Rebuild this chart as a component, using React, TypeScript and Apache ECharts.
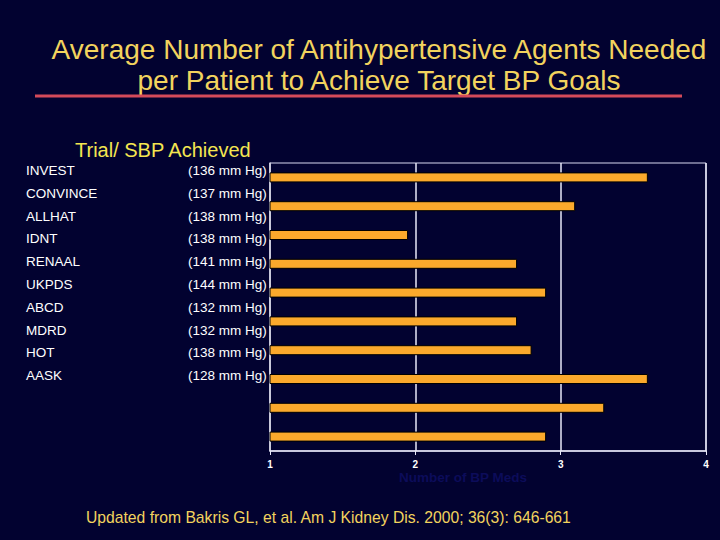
import React, { useEffect, useRef } from "react";
import * as echarts from "echarts";

const titleLines = [
  "Average Number of Antihypertensive Agents Needed",
  "per Patient to Achieve Target BP Goals",
];
const trials = ["INVEST", "CONVINCE", "ALLHAT", "IDNT", "RENAAL", "UKPDS", "ABCD", "MDRD", "HOT", "AASK"];
const sbpAchieved = [
  "(136 mm Hg)", "(137 mm Hg)", "(138 mm Hg)", "(138 mm Hg)", "(141 mm Hg)",
  "(144 mm Hg)", "(132 mm Hg)", "(132 mm Hg)", "(138 mm Hg)", "(128 mm Hg)",
];
const meds = [3.6, 3.1, 1.95, 2.7, 2.9, 2.7, 2.8, 3.6, 3.3, 2.9];
const xTicks = [1, 2, 3, 4];
const axisName = "Number of BP Meds";
const columnHeader = "Trial/ SBP Achieved";
const footer = "Updated from Bakris GL, et al. Am J Kidney Dis. 2000; 36(3): 646-661";

export default function App() {
  const ref = useRef<HTMLDivElement>(null);
  useEffect(() => {
    if (!ref.current) return;
    const chart = echarts.init(ref.current, null, { renderer: "svg" });
    const font = "'Liberation Sans', Arial, sans-serif";
    const labelTexts: any[] = [];
    trials.forEach((t, i) => {
      const y = 171 + i * 22.8;
      labelTexts.push({
        type: "text", left: 26, top: y - 7.5,
        style: { text: t, fill: "#ffffff", font: `13.5px ${font}` },
      });
      labelTexts.push({
        type: "text", left: 188, top: y - 7.5,
        style: { text: sbpAchieved[i], fill: "#ffffff", font: `13.5px ${font}` },
      });
    });
    chart.setOption({
      animation: false,
      backgroundColor: "#020230",
      grid: {
        left: 270, right: 14, top: 163, bottom: 89,
        show: true, borderColor: "#d8d8f0", borderWidth: 1,
      },
      xAxis: {
        type: "value", min: 1, max: 4, interval: 1,
        axisLine: { show: true, lineStyle: { color: "#e8e8f8", width: 1.5 } },
        axisTick: { show: true, length: 4, lineStyle: { color: "#e8e8f8" } },
        splitLine: { show: true, lineStyle: { color: "#e8e8f8", width: 1.5 } },
        axisLabel: {
          color: "#ffffff", fontSize: 10, fontWeight: "bold", fontFamily: font, margin: 8,
          formatter: (v: number) => (xTicks.includes(v) ? String(v) : ""),
        },
      },
      yAxis: {
        type: "category", data: trials, inverse: true,
        axisLine: { show: true, lineStyle: { color: "#c8c8d8", width: 1.5 } },
        axisTick: { show: false },
        axisLabel: { show: false },
      },
      series: [
        {
          type: "bar", data: meds, barWidth: 10,
          itemStyle: { color: "#fba92c", borderColor: "#000000", borderWidth: 1 },
        },
      ],
      graphic: [
        {
          type: "text", x: 379, y: 34,
          style: {
            text: titleLines.join("\n"), fill: "#f2d35e", font: `28px ${font}`,
            textAlign: "center", lineHeight: 31,
          },
        },
        {
          type: "rect", shape: { x: 35, y: 94.5, width: 647, height: 3 },
          style: { fill: "#d44a5a" },
        },
        {
          type: "text", left: 75, top: 140,
          style: { text: columnHeader, fill: "#f5e650", font: `20px ${font}` },
        },
        ...labelTexts,
        {
          type: "text", x: 463, y: 470,
          style: {
            text: axisName, fill: "#0c0c5a", font: `bold 13.5px ${font}`, textAlign: "center",
          },
        },
        {
          type: "text", left: 86, top: 509,
          style: { text: footer, fill: "#f2d35e", font: `15.7px ${font}` },
        },
      ],
    });
    return () => chart.dispose();
  }, []);
  return (
    <div
      ref={ref}
      style={{ width: 720, height: 540, position: "fixed", left: 0, top: 0 }}
    />
  );
}
